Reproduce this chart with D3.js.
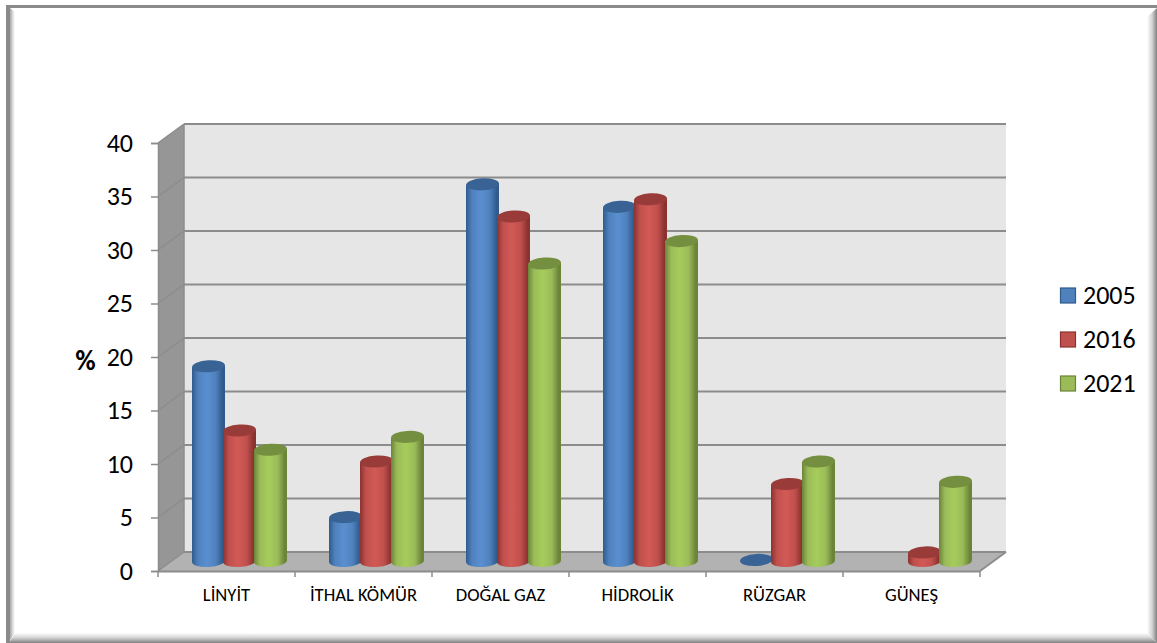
<!DOCTYPE html>
<html><head><meta charset="utf-8">
<script src="https://cdn.jsdelivr.net/npm/d3@7"></script>
<style>html,body{margin:0;padding:0;background:#fff}svg{display:block}</style>
</head><body><div id="c"></div>
<script>
const categories=["LİNYİT","İTHAL KÖMÜR","DOĞAL GAZ","HİDROLİK","RÜZGAR","GÜNEŞ"];
const seriesNames=["2005","2016","2021"];
const v2005=[18.2,4.1,35.2,33.1,0.1,null];
const v2016=[12.2,9.3,32.2,33.8,7.2,0.8];
const v2021=[10.4,11.6,27.8,29.9,9.3,7.4];
const yTicks=[0,5,10,15,20,25,30,35,40];
const colors=[{m:"#4f81bd",l:"#5a8fd0",d:"#2f5b8d",t:"#386394"},{m:"#c0504d",l:"#d25a56",d:"#8a3230",t:"#993c39"},{m:"#9bbb59",l:"#a6cc5c",d:"#6a8438",t:"#748f3f"}];

const W=1157,H=643;
const svg=d3.select("#c").append("svg").attr("width",W).attr("height",H);
const defs=svg.append("defs");
const x=d3.scaleBand().domain(categories).range([158,980]);
const y=d3.scaleLinear().domain([0,40]).range([571,143]);
const dx=26,dy=-19;
const font="Carlito, 'Open Sans', sans-serif";

function grad(id,x1,y1,x2,y2,stops){
  const g=defs.append("linearGradient").attr("id",id).attr("x1",x1).attr("y1",y1).attr("x2",x2).attr("y2",y2);
  stops.forEach(s=>g.append("stop").attr("offset",s[0]).attr("stop-color",s[1]));
}
grad("fl",0,0,1,0,[[0,"#a4a4a4"],[.5,"#d8d8d8"],[1,"#ffffff"]]);
grad("fr",0,0,1,0,[[0,"#ffffff"],[.5,"#d4d4d4"],[1,"#808080"]]);
grad("fb",0,0,0,1,[[0,"#ffffff"],[.5,"#d0d0d0"],[1,"#808080"]]);
colors.forEach((c,i)=>grad("cyl"+i,0,0,1,0,[[0,c.d],[.18,c.m],[.45,c.l],[.72,c.m],[.93,c.d],[1,c.d]]));

// frame
svg.append("polygon").attr("points","15,633 1147,633 1157,643 9,643").attr("fill","url(#fb)");
svg.append("polygon").attr("points","1147,17 1157,8 1157,643 1147,633").attr("fill","url(#fr)");
svg.append("polygon").attr("points","10,8 15,12 15,633 10,640").attr("fill","url(#fl)");
svg.append("rect").attr("x",6).attr("y",5).attr("width",1151).attr("height",3).attr("fill","#8a8a8a");
svg.append("rect").attr("x",6).attr("y",5).attr("width",4).attr("height",638).attr("fill","#8a8a8a");

// walls
const g=svg.append("g");
const x0=x.range()[0],x1=x.range()[1];
g.append("polygon").attr("points",[[x0+dx,y(40)+dy],[x1+dx,y(40)+dy],[x1+dx,y(0)+dy],[x0+dx,y(0)+dy]].join(" ")).attr("fill","#e6e6e6");
g.append("polygon").attr("points",[[x0,y(40)],[x0+dx,y(40)+dy],[x0+dx,y(0)+dy],[x0,y(0)]].join(" ")).attr("fill","#969696");
g.append("polygon").attr("points",[[x0,y(0)],[x0+dx,y(0)+dy],[x1+dx,y(0)+dy],[x1,y(0)]].join(" ")).attr("fill","#b2b2b2");

// grid
const gc="#8c8c8c";
yTicks.forEach(t=>{
  g.append("line").attr("x1",x0+dx).attr("x2",x1+dx).attr("y1",y(t)+dy).attr("y2",y(t)+dy).attr("stroke",gc).attr("stroke-width",2);
  g.append("line").attr("x1",x0).attr("x2",x0+dx).attr("y1",y(t)).attr("y2",y(t)+dy).attr("stroke",gc).attr("stroke-width",1.5);
});
g.append("line").attr("x1",x0+dx).attr("x2",x0+dx).attr("y1",y(40)+dy).attr("y2",y(0)+dy).attr("stroke",gc).attr("stroke-width",1.5);
g.append("line").attr("x1",x1).attr("x2",x1+dx).attr("y1",y(0)).attr("y2",y(0)+dy).attr("stroke",gc).attr("stroke-width",2);

// axes
const axY=d3.axisLeft(y).tickValues(yTicks).tickSize(7).tickPadding(18);
const ay=svg.append("g").attr("transform",`translate(${x0},0)`).call(axY);
ay.select(".domain").attr("stroke",gc).attr("stroke-width",1.5);
ay.selectAll(".tick line").attr("stroke",gc).attr("stroke-width",1.5);
ay.selectAll("text").attr("font-family",font).attr("font-size",26).attr("fill","#000");
const axX=d3.axisBottom(x).tickSize(0).tickPadding(17);
const ax=svg.append("g").attr("transform",`translate(0,${y(0)})`).call(axX);
ax.select(".domain").attr("stroke",gc).attr("stroke-width",2);
ax.selectAll("text").attr("font-family",font).attr("font-size",18.6).attr("fill","#000");
[...categories.map(c=>x(c)),x1].forEach(p=>ax.append("line").attr("x1",p).attr("x2",p).attr("y1",0).attr("y2",6).attr("stroke",gc).attr("stroke-width",1.5));

// bars
const sx=d3.scaleBand().domain(seriesNames).range([0,93]);
const barW=33, rY=6, baseOff=dy/2-0.5, tilt=1;
[v2005,v2016,v2021].forEach((vals,si)=>{
  const c=colors[si];
  const bg=svg.append("g");
  vals.forEach((v,i)=>{
    if(v==null)return;
    const L=x(categories[i])+34+sx(seriesNames[si]);
    const cx=L+barW/2, yb=y(0)+baseOff, yt=y(v)+baseOff;
    if(v>0.5){
      bg.append("path").attr("d",`M${L},${yt+tilt}L${L},${yb+tilt}A${barW/2},${rY} -3.5 0 0 ${L+barW},${yb-tilt}L${L+barW},${yt-tilt}Z`).attr("fill",`url(#cyl${si})`);
    }
    bg.append("ellipse").attr("cx",cx).attr("cy",yt).attr("rx",barW/2).attr("ry",rY).attr("fill",c.t).attr("transform",`rotate(-3.5 ${cx} ${yt})`);
  });
});

// y title
svg.append("text").attr("x",85.5).attr("y",370).attr("text-anchor","middle").attr("font-family",font).attr("font-weight",700).attr("font-size",28).attr("fill","#000").text("%");

// legend
const ly=d3.scalePoint().domain(seriesNames).range([295,383]);
seriesNames.forEach((s,i)=>{
  svg.append("rect").attr("x",1060.5).attr("y",ly(s)-7).attr("width",15).attr("height",15).attr("fill",colors[i].m).attr("stroke",colors[i].d).attr("stroke-width",1.2);
  svg.append("text").attr("x",1083).attr("y",ly(s)+9).attr("font-family",font).attr("font-size",26).attr("fill","#000").text(s);
});
</script></body></html>
